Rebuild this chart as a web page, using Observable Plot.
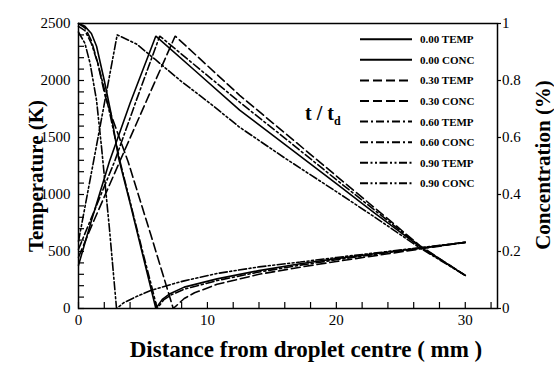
<!DOCTYPE html>
<html>
<head>
<meta charset="utf-8">
<script src="https://cdn.jsdelivr.net/npm/d3@7"></script>
<script src="https://cdn.jsdelivr.net/npm/@observablehq/plot@0.6"></script>
<style>
  body { margin: 0; background: #fff; }
  svg text { font-family: "Liberation Serif", "Times New Roman", Times, serif; }
</style>
</head>
<body>
<div id="chart"></div>
<script>
// Radial profiles around a burning droplet at four times t/td.
// Temperature in K (left axis), concentration in % fraction (right axis).

const timeLabels = ["0.00", "0.30", "0.60", "0.90"];

// t/td = 0.00
const temp000X = [0, 1, 2.4, 4, 6.0, 9, 12.5, 16, 20, 23, 26.5, 30];
const temp000K = [380, 770, 1290, 1800, 2390, 2090, 1740, 1440, 1095, 835, 540, 290];
const conc000X = [0, 0.5, 1, 1.4, 2.0, 2.5, 3.1, 4, 5, 6.0, 6.5, 7.1, 8.2, 10.75, 14, 17.2, 20, 24, 27, 30];
const conc000C = [1.0, 0.99, 0.965, 0.92, 0.8, 0.69, 0.53, 0.37, 0.185, 0, 0.032, 0.052, 0.075, 0.104, 0.133, 0.157, 0.175, 0.198, 0.215, 0.232];

// t/td = 0.30
const temp030X = [0, 1, 3.2, 5.5, 7.5, 10, 12.5, 16, 20, 23, 26.5, 30];
const temp030K = [450, 720, 1290, 1880, 2390, 2130, 1870, 1540, 1163, 880, 550, 290];
const conc030X = [0, 0.5, 1, 1.5, 2.04, 2.6, 3.85, 5.58, 7.35, 8.2, 9, 10.75, 14, 17.2, 20, 24, 27, 30];
const conc030C = [1.0, 0.985, 0.94, 0.86, 0.75, 0.67, 0.515, 0.263, 0, 0.035, 0.055, 0.085, 0.12, 0.145, 0.165, 0.192, 0.212, 0.232];

// t/td = 0.60
const temp060X = [0, 2.8, 4.5, 6.3, 9.5, 12.5, 16, 20, 23, 26.5, 30];
const temp060K = [520, 1290, 1830, 2390, 2090, 1810, 1495, 1130, 860, 545, 290];
const conc060X = [0, 0.5, 1, 1.5, 2, 2.5, 3.2, 4, 5, 5.66, 6.1, 6.6, 7.2, 8.2, 10.75, 14, 17.2, 20, 24, 27, 30];
const conc060C = [0.99, 0.975, 0.93, 0.86, 0.77, 0.67, 0.52, 0.375, 0.195, 0.08, 0, 0.03, 0.048, 0.068, 0.098, 0.128, 0.152, 0.171, 0.196, 0.214, 0.232];

// t/td = 0.90
const temp090X = [0, 1.2, 3.0, 4.5, 6, 8, 10.2, 12.5, 16, 20, 23, 26.5, 30];
const temp090K = [590, 1310, 2400, 2320, 2180, 1990, 1800, 1590, 1320, 1025, 800, 530, 290];
const conc090X = [0, 0.5, 0.9, 1.4, 1.8, 2.4, 2.95, 3.5, 4.5, 5.6, 7.6, 8.2, 10.75, 14, 17.2, 20, 24, 27, 30];
const conc090C = [0.97, 0.93, 0.86, 0.73, 0.56, 0.28, 0, 0.02, 0.042, 0.063, 0.09, 0.097, 0.123, 0.146, 0.163, 0.179, 0.2, 0.216, 0.232];

// Axis ranges and ticks
const xDomain = [0, 32.5];
const tempDomain = [0, 2500];
const concMax = 1;
const xTickLabels = [0, 10, 20, 30];
const xMinorTicks = d3.range(0, 33, 2);
const tempTickLabels = d3.range(0, 2501, 500);
const tempMinorTicks = d3.range(0, 2501, 100);
const concTickLabels = [0, 0.2, 0.4, 0.6, 0.8, 1];

// Line styles per time
const dashStyles = [null, "9,4", "8,3,2,3", "8,2.5,2,2.5,2,2.5"];

// Concentration is drawn against the temperature scale
const concToTemp = tempDomain[1] / concMax;

const series = [
  {label: `${timeLabels[0]} TEMP`, x: temp000X, v: temp000K, scale: 1, dash: dashStyles[0]},
  {label: `${timeLabels[0]} CONC`, x: conc000X, v: conc000C, scale: concToTemp, dash: dashStyles[0]},
  {label: `${timeLabels[1]} TEMP`, x: temp030X, v: temp030K, scale: 1, dash: dashStyles[1]},
  {label: `${timeLabels[1]} CONC`, x: conc030X, v: conc030C, scale: concToTemp, dash: dashStyles[1]},
  {label: `${timeLabels[2]} TEMP`, x: temp060X, v: temp060K, scale: 1, dash: dashStyles[2]},
  {label: `${timeLabels[2]} CONC`, x: conc060X, v: conc060C, scale: concToTemp, dash: dashStyles[2]},
  {label: `${timeLabels[3]} TEMP`, x: temp090X, v: temp090K, scale: 1, dash: dashStyles[3]},
  {label: `${timeLabels[3]} CONC`, x: conc090X, v: conc090C, scale: concToTemp, dash: dashStyles[3]}
];

const fmtConc = d => String(+(d / concToTemp).toFixed(1));

const chart = Plot.plot({
  width: 554,
  height: 365,
  marginLeft: 78,
  marginRight: 57,
  marginTop: 23,
  marginBottom: 57,
  style: {background: "#fff", fontFamily: "Liberation Serif", fontSize: "15px", color: "#000"},
  x: {domain: xDomain, label: null},
  y: {domain: tempDomain, label: null},
  marks: [
    // inward minor ticks
    Plot.axisX(xMinorTicks, {tickSize: -6, tickFormat: () => "", strokeWidth: 1.2}),
    Plot.axisY(tempMinorTicks, {tickSize: -6, tickFormat: () => "", strokeWidth: 1.2}),
    // tick labels
    Plot.axisX(xTickLabels, {tickSize: 0, tickPadding: 6, fontSize: 15, tickFormat: d => String(d)}),
    Plot.axisY(tempTickLabels, {tickSize: 0, tickPadding: 8, fontSize: 15, tickFormat: d => String(d)}),
    Plot.axisY(concTickLabels.map(c => c * concToTemp), {
      anchor: "right", tickSize: 3, tickPadding: 1.5, strokeWidth: 1.2,
      tickFormat: fmtConc, fontSize: 15
    }),
    Plot.frame({stroke: "#000", strokeWidth: 1.5}),
    ...series.map(s => Plot.line(
      s.x.map((x, i) => ({x, y: s.v[i] * s.scale})),
      {x: "x", y: "y", stroke: "#000", strokeWidth: 1.6, strokeDasharray: s.dash, strokeLinejoin: "miter"}
    ))
  ]
});

document.getElementById("chart").appendChild(chart);

const svg = d3.select(chart);

// Axis titles
svg.append("text")
  .attr("x", 306).attr("y", 357)
  .attr("text-anchor", "middle")
  .style("font-size", "23px").style("font-weight", "bold")
  .text("Distance from droplet centre ( mm )");

svg.append("text")
  .attr("transform", "translate(43,176) rotate(-90)")
  .attr("text-anchor", "middle")
  .style("font-size", "21px").style("font-weight", "bold")
  .text("Temperature (K)");

svg.append("text")
  .attr("transform", "translate(550,165) rotate(-90)")
  .attr("text-anchor", "middle")
  .style("font-size", "21px").style("font-weight", "bold")
  .text("Concentration (%)");

// Legend
const legend = svg.append("g").attr("text-anchor", "start");
series.forEach((s, i) => {
  const y = 39.3 + 20.57 * i;
  legend.append("line")
    .attr("x1", 360).attr("x2", 412).attr("y1", y).attr("y2", y)
    .attr("stroke", "#000").attr("stroke-width", 2)
    .attr("stroke-dasharray", s.dash);
  legend.append("text")
    .attr("x", 420).attr("y", y + 4)
    .attr("text-anchor", "start")
    .style("font-size", "11px").style("font-weight", "bold")
    .text(s.label);
});

const tt = svg.append("text")
  .attr("x", 305).attr("y", 120)
  .attr("text-anchor", "start")
  .style("font-size", "20px").style("font-weight", "bold");
tt.append("tspan").text("t / t");
tt.append("tspan").attr("dy", 5).style("font-size", "12px").text("d");
</script>
</body>
</html>
